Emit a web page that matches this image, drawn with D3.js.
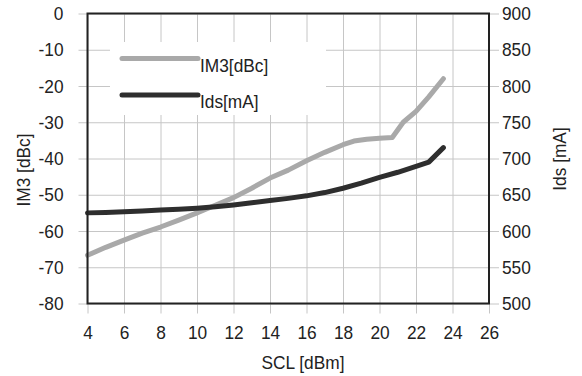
<!DOCTYPE html>
<html>
<head>
<meta charset="utf-8">
<script src="https://cdn.jsdelivr.net/npm/d3@7"></script>
<style>
  body { margin: 0; background: #fff; }
  text { font-family: "Liberation Sans", Arial, sans-serif; fill: #222; }
</style>
</head>
<body>
<svg id="chart" width="582" height="376"></svg>
<script>
// SCL input power [dBm]
const sclIm3 = [4, 5, 6, 7, 8, 9, 10, 11, 12, 13, 14, 15, 16, 17, 18, 18.6, 19.3, 20, 20.7, 21.3, 22, 22.7, 23.5];
const im3Values = [-66.7, -64.5, -62.5, -60.6, -58.9, -57, -55, -52.9, -50.8, -48.2, -45.4, -43.2, -40.6, -38.3, -36.2, -35.2, -34.7, -34.4, -34.2, -30, -27, -23, -18];

const sclIds = [4, 5, 6, 7, 8, 9, 10, 11, 12, 13, 14, 15, 16, 17, 18, 19, 20, 21, 22, 22.7, 23.5];
const idsValues = [625, 625.5, 626.5, 627.5, 629, 630, 631.5, 633.5, 636, 639, 642, 645, 648.5, 653, 659, 666, 674, 681, 689, 695, 715];

const xTicks = [4, 6, 8, 10, 12, 14, 16, 18, 20, 22, 24, 26];
const im3Ticks = [0, -10, -20, -30, -40, -50, -60, -70, -80];
const idsTicks = [500, 550, 600, 650, 700, 750, 800, 850, 900];

const legendNames = ["IM3[dBc]", "Ids[mA]"];
const lightGrey = "#a9a9a9", darkGrey = "#2e2e2e";
const fontSize = 19;

const margin = {top: 13.5, right: 93, bottom: 72.5, left: 87.5};
const W = 582, H = 376;
const width = W - margin.left - margin.right;
const height = H - margin.top - margin.bottom;

// the original font is a bit condensed, squeeze glyphs horizontally
function squeeze(sel, k = 0.91) {
  sel.each(function() {
    const len = this.getComputedTextLength();
    d3.select(this).attr("textLength", len * k).attr("lengthAdjust", "spacingAndGlyphs");
  });
}

const svg = d3.select("#chart");
const g = svg.append("g").attr("transform", `translate(${margin.left},${margin.top})`);

const x = d3.scaleLinear().domain([4, 26]).range([0, width]);
const yL = d3.scaleLinear().domain([-80, 0]).range([height, 0]);
const yR = d3.scaleLinear().domain([500, 900]).range([height, 0]);

// grid + left ticks
const leftAx = g.append("g")
  .attr("transform", `translate(${width},0)`)
  .call(d3.axisLeft(yL).tickValues(im3Ticks).tickSize(width + 9).tickPadding(15).tickFormat(d3.format("d")));
// grid + bottom ticks
const botAx = g.append("g")
  .call(d3.axisBottom(x).tickValues(xTicks).tickSize(height + 10).tickPadding(12));
// right ticks
const rightAx = g.append("g")
  .attr("transform", `translate(${width},0)`)
  .call(d3.axisRight(yR).tickValues(idsTicks).tickSize(10).tickPadding(3));

[leftAx, botAx, rightAx].forEach(a => {
  a.select(".domain").remove();
  a.selectAll(".tick line").attr("stroke", "#c6c6c6").attr("stroke-width", 1);
  a.selectAll(".tick text").attr("font-size", fontSize).attr("fill", "#222")
    .attr("font-family", "'Liberation Sans', Arial, sans-serif");
});
leftAx.selectAll(".tick text").text(d => d === 0 ? "0" : d);

// legend background (covers the grid)
g.append("rect")
  .attr("x", 110 - margin.left).attr("y", 42 - margin.top)
  .attr("width", 216).attr("height", 73)
  .attr("fill", "#fff");

const lineIm3 = d3.line().x((d, i) => x(sclIm3[i])).y(d => yL(d));
const lineIds = d3.line().x((d, i) => x(sclIds[i])).y(d => yR(d));

g.append("path").datum(im3Values)
  .attr("d", lineIm3).attr("fill", "none")
  .attr("stroke", lightGrey).attr("stroke-width", 5)
  .attr("stroke-linejoin", "round").attr("stroke-linecap", "round");

g.append("path").datum(idsValues)
  .attr("d", lineIds).attr("fill", "none")
  .attr("stroke", darkGrey).attr("stroke-width", 5)
  .attr("stroke-linejoin", "round").attr("stroke-linecap", "round");

// frame
g.append("rect")
  .attr("x", 0).attr("y", 0).attr("width", width).attr("height", height)
  .attr("fill", "none").attr("stroke", "#222").attr("stroke-width", 2);

// legend
const legend = svg.append("g");
const legY = [58.5, 95];
legendNames.forEach((name, i) => {
  legend.append("line")
    .attr("x1", 122).attr("x2", 198).attr("y1", legY[i]).attr("y2", legY[i])
    .attr("stroke", i === 0 ? lightGrey : darkGrey).attr("stroke-width", 5)
    .attr("stroke-linecap", "round");
  legend.append("text")
    .attr("x", 200).attr("y", legY[i] + 13)
    .attr("font-size", fontSize).text(name);
});

// axis titles
svg.append("text")
  .attr("x", 303).attr("y", 369)
  .attr("text-anchor", "middle").attr("font-size", fontSize)
  .text("SCL [dBm]");

svg.append("text")
  .attr("transform", "translate(30,170) rotate(-90)")
  .attr("text-anchor", "middle").attr("font-size", fontSize)
  .text("IM3 [dBc]");

svg.append("text")
  .attr("transform", "translate(566,159) rotate(-90)")
  .attr("text-anchor", "middle").attr("font-size", fontSize)
  .text("Ids [mA]");

squeeze(svg.selectAll("text"));
</script>
</body>
</html>
